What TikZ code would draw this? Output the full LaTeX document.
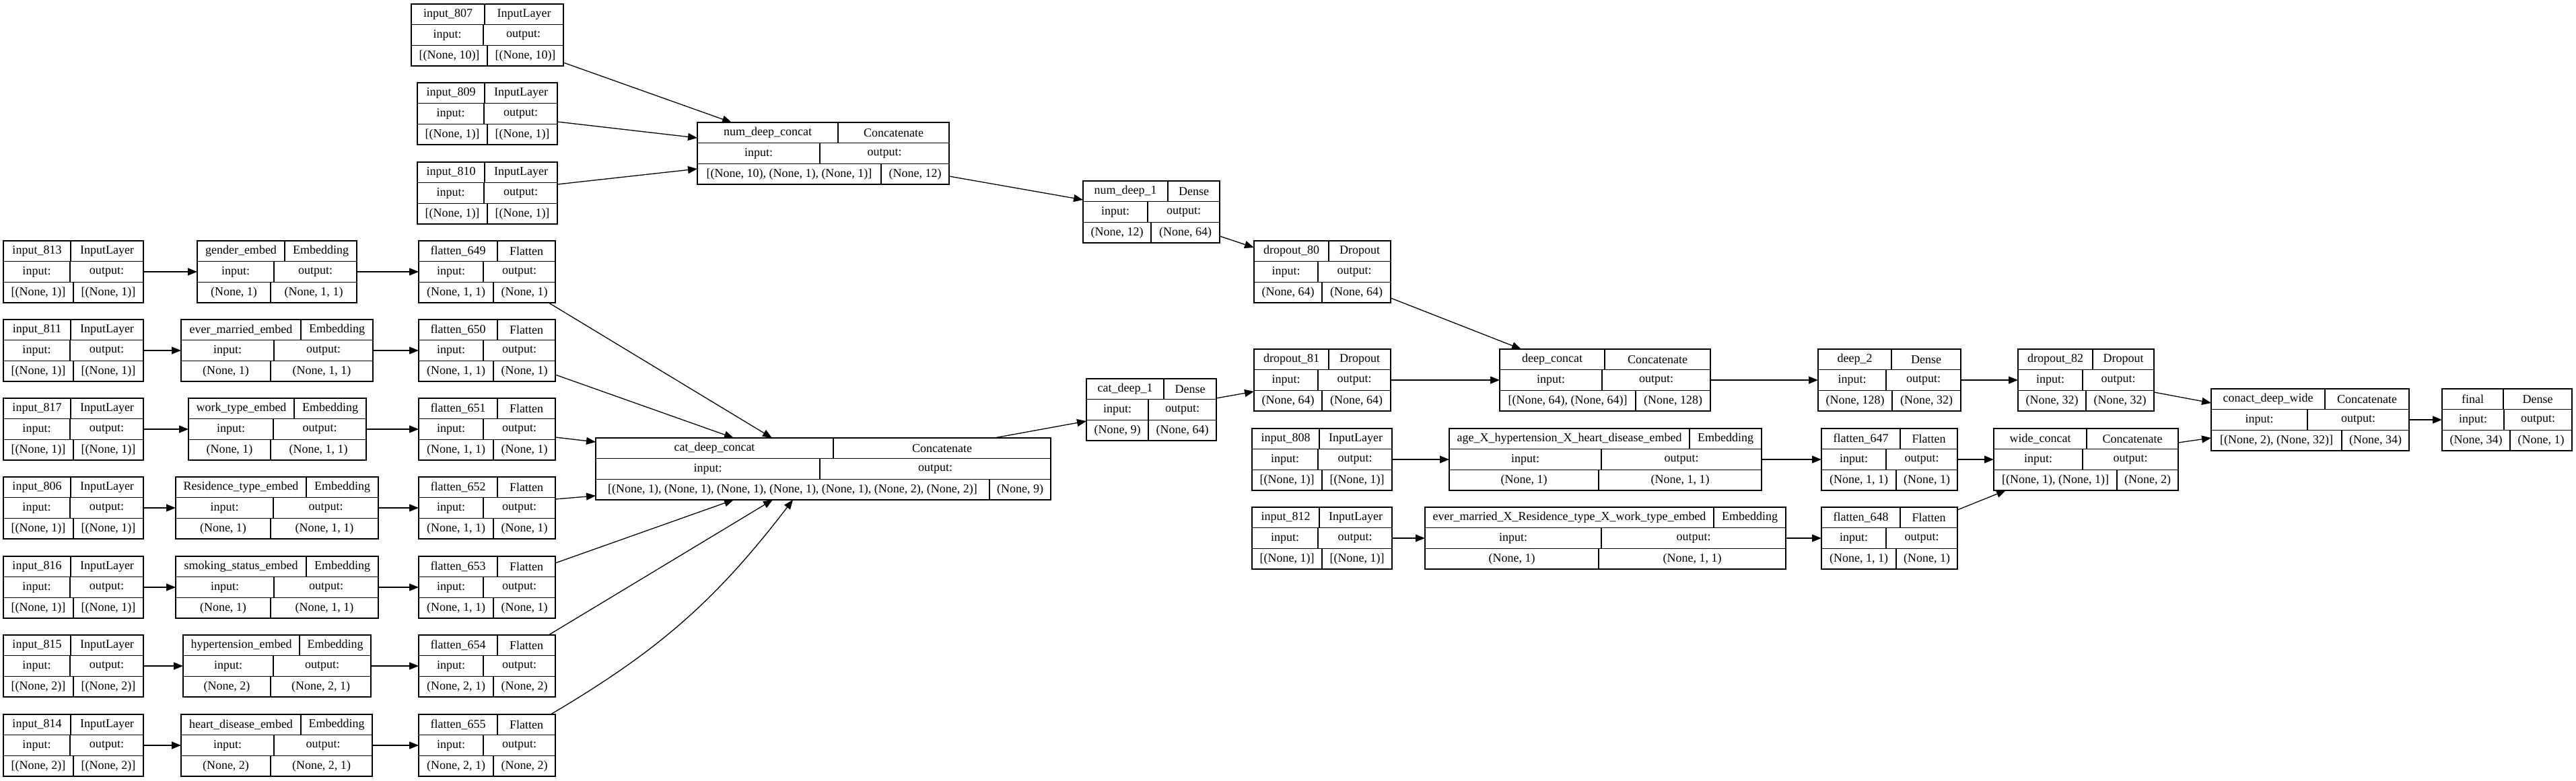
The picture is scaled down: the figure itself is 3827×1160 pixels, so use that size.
\documentclass[tikz,border=0pt]{standalone}
\usepackage{fontspec}
\setmainfont{Liberation Serif}
\usetikzlibrary{arrows.meta,calc}

\tikzset{
  layerbox/.style={draw, line width=1.5pt, minimum height=92pt, inner sep=0pt, outer sep=0pt},
  cellline/.style={line width=1.5pt},
  flow/.style={-{Triangle[length=14pt,width=11pt]}, line width=1.3pt},
  every node/.append style={font=\fontsize{18}{22}\selectfont}
}

% box: id, left, top, right, split row 1, split row 2, split row 3, name, class
\newcommand{\kerasnode}[9]{%
  \node[layerbox, minimum width={(#4-#2)*1pt}, anchor=north west] (#1) at (#2,#3) {};
  \draw[cellline] (#2,#3+30.67) -- (#4,#3+30.67) (#2,#3+61.33) -- (#4,#3+61.33);
  \draw[cellline] (#5,#3) -- (#5,#3+30.67) (#6,#3+30.67) -- (#6,#3+61.33) (#7,#3+61.33) -- (#7,#3+92);
  \node at ({(#2+#5)/2},#3+15.33) {#8};
  \node at ({(#5+#4)/2},#3+15.33) {#9};
  \node at ({(#2+#6)/2},#3+46) {input:};
  \node at ({(#6+#4)/2},#3+46) {output:};
  \coordinate (#1-s) at (#7,#3+76.67);
}
% shapes in the last row
\newcommand{\kerasshape}[3]{%
  \path (#1.west |- #1-s) -- node{#2} (#1-s) -- node{#3} (#1.east |- #1-s);
}

\begin{document}
\begin{tikzpicture}[x=1pt,y=1pt,yscale=-1,xscale=1]
\useasboundingbox (0,0) rectangle (3827,1160);

% numeric inputs
\kerasnode{in807}{611}{6}{837}{720}{718}{724}{input\_807}{InputLayer}
\kerasshape{in807}{[(None, 10)]}{[(None, 10)]}
\kerasnode{in809}{620}{123}{828}{720}{719}{724}{input\_809}{InputLayer}
\kerasshape{in809}{[(None, 1)]}{[(None, 1)]}
\kerasnode{in810}{620}{241}{828}{720}{719}{724}{input\_810}{InputLayer}
\kerasshape{in810}{[(None, 1)]}{[(None, 1)]}

\kerasnode{ndc}{1036}{182}{1410}{1245}{1218}{1309}{num\_deep\_concat}{Concatenate}
\kerasshape{ndc}{[(None, 10), (None, 1), (None, 1)]}{(None, 12)}
\kerasnode{nd1}{1609}{269}{1812}{1735}{1705}{1710}{num\_deep\_1}{Dense}
\kerasshape{nd1}{(None, 12)}{(None, 64)}
\kerasnode{do80}{1863}{358}{2066}{1974}{1958}{1964}{dropout\_80}{Dropout}
\kerasshape{do80}{(None, 64)}{(None, 64)}

% categorical inputs
\kerasnode{in813}{5}{358}{213}{105}{104}{109}{input\_813}{InputLayer}
\kerasshape{in813}{[(None, 1)]}{[(None, 1)]}
\kerasnode{in811}{5}{475}{213}{105}{104}{109}{input\_811}{InputLayer}
\kerasshape{in811}{[(None, 1)]}{[(None, 1)]}
\kerasnode{in817}{5}{592}{213}{105}{104}{109}{input\_817}{InputLayer}
\kerasshape{in817}{[(None, 1)]}{[(None, 1)]}
\kerasnode{in806}{5}{709}{213}{105}{104}{109}{input\_806}{InputLayer}
\kerasshape{in806}{[(None, 1)]}{[(None, 1)]}
\kerasnode{in816}{5}{827}{213}{105}{104}{109}{input\_816}{InputLayer}
\kerasshape{in816}{[(None, 1)]}{[(None, 1)]}
\kerasnode{in815}{5}{944}{213}{105}{104}{109}{input\_815}{InputLayer}
\kerasshape{in815}{[(None, 2)]}{[(None, 2)]}
\kerasnode{in814}{5}{1062}{213}{105}{104}{109}{input\_814}{InputLayer}
\kerasshape{in814}{[(None, 2)]}{[(None, 2)]}

% embeddings
\kerasnode{gemb}{293}{358}{530}{423}{407}{402}{gender\_embed}{Embedding}
\kerasshape{gemb}{(None, 1)}{(None, 1, 1)}
\kerasnode{memb}{269}{475}{554}{447}{407}{402}{ever\_married\_embed}{Embedding}
\kerasshape{memb}{(None, 1)}{(None, 1, 1)}
\kerasnode{wemb}{280}{592}{544}{437}{406}{402}{work\_type\_embed}{Embedding}
\kerasshape{wemb}{(None, 1)}{(None, 1, 1)}
\kerasnode{remb}{261}{709}{562}{455}{406}{402}{Residence\_type\_embed}{Embedding}
\kerasshape{remb}{(None, 1)}{(None, 1, 1)}
\kerasnode{semb}{261}{827}{562}{455}{407}{402}{smoking\_status\_embed}{Embedding}
\kerasshape{semb}{(None, 1)}{(None, 1, 1)}
\kerasnode{hemb}{272}{944}{551}{445}{406}{402}{hypertension\_embed}{Embedding}
\kerasshape{hemb}{(None, 2)}{(None, 2, 1)}
\kerasnode{hdemb}{269}{1062}{553}{447}{407}{402}{heart\_disease\_embed}{Embedding}
\kerasshape{hdemb}{(None, 2)}{(None, 2, 1)}

% flattens
\kerasnode{f649}{622}{358}{825}{739}{718}{733}{flatten\_649}{Flatten}
\kerasshape{f649}{(None, 1, 1)}{(None, 1)}
\kerasnode{f650}{622}{475}{825}{739}{718}{733}{flatten\_650}{Flatten}
\kerasshape{f650}{(None, 1, 1)}{(None, 1)}
\kerasnode{f651}{622}{592}{825}{739}{718}{733}{flatten\_651}{Flatten}
\kerasshape{f651}{(None, 1, 1)}{(None, 1)}
\kerasnode{f652}{622}{709}{825}{739}{718}{733}{flatten\_652}{Flatten}
\kerasshape{f652}{(None, 1, 1)}{(None, 1)}
\kerasnode{f653}{622}{827}{825}{739}{718}{733}{flatten\_653}{Flatten}
\kerasshape{f653}{(None, 1, 1)}{(None, 1)}
\kerasnode{f654}{622}{944}{825}{739}{718}{733}{flatten\_654}{Flatten}
\kerasshape{f654}{(None, 2, 1)}{(None, 2)}
\kerasnode{f655}{622}{1062}{825}{739}{718}{733}{flatten\_655}{Flatten}
\kerasshape{f655}{(None, 2, 1)}{(None, 2)}

\kerasnode{cdc}{885}{651}{1561}{1238}{1218}{1470}{cat\_deep\_concat}{Concatenate}
\kerasshape{cdc}{[(None, 1), (None, 1), (None, 1), (None, 1), (None, 1), (None, 2), (None, 2)]}{(None, 9)}
\kerasnode{cd1}{1614}{563}{1807}{1729}{1706}{1706}{cat\_deep\_1}{Dense}
\kerasshape{cd1}{(None, 9)}{(None, 64)}
\kerasnode{do81}{1863}{519}{2066}{1974}{1958}{1964}{dropout\_81}{Dropout}
\kerasshape{do81}{(None, 64)}{(None, 64)}

% deep part
\kerasnode{dc}{2228}{519}{2541}{2384}{2380}{2430}{deep\_concat}{Concatenate}
\kerasshape{dc}{[(None, 64), (None, 64)]}{(None, 128)}
\kerasnode{d2}{2701}{519}{2913}{2810}{2802}{2811}{deep\_2}{Dense}
\kerasshape{d2}{(None, 128)}{(None, 32)}
\kerasnode{do82}{2998}{519}{3200}{3109}{3094}{3099}{dropout\_82}{Dropout}
\kerasshape{do82}{(None, 32)}{(None, 32)}

% wide part
\kerasnode{in808}{1860}{637}{2068}{1960}{1958}{1964}{input\_808}{InputLayer}
\kerasshape{in808}{[(None, 1)]}{[(None, 1)]}
\kerasnode{agex}{2153}{637}{2617}{2510}{2379}{2375}{age\_X\_hypertension\_X\_heart\_disease\_embed}{Embedding}
\kerasshape{agex}{(None, 1)}{(None, 1, 1)}
\kerasnode{f647}{2706}{637}{2908}{2823}{2802}{2817}{flatten\_647}{Flatten}
\kerasshape{f647}{(None, 1, 1)}{(None, 1)}
\kerasnode{in812}{1860}{754}{2068}{1960}{1958}{1964}{input\_812}{InputLayer}
\kerasshape{in812}{[(None, 1)]}{[(None, 1)]}
\kerasnode{emx}{2117}{754}{2653}{2546}{2379}{2375}{ever\_married\_X\_Residence\_type\_X\_work\_type\_embed}{Embedding}
\kerasshape{emx}{(None, 1)}{(None, 1, 1)}
\kerasnode{f648}{2706}{754}{2908}{2823}{2802}{2817}{flatten\_648}{Flatten}
\kerasshape{f648}{(None, 1, 1)}{(None, 1)}
\kerasnode{wc}{2962}{637}{3236}{3100}{3094}{3145}{wide\_concat}{Concatenate}
\kerasshape{wc}{[(None, 1), (None, 1)]}{(None, 2)}

\kerasnode{cdw}{3285}{578}{3579}{3454}{3428}{3479}{conact\_deep\_wide}{Concatenate}
\kerasshape{cdw}{[(None, 2), (None, 32)]}{(None, 34)}
\kerasnode{fin}{3628}{578}{3821}{3719}{3720}{3729}{final}{Dense}
\kerasshape{fin}{(None, 34)}{(None, 1)}

% arrows, numeric branch
\draw[flow] ($(in807.south east)+(0,-5)$) -- ($(ndc.north west)+(51,0)$);
\draw[flow] ($(in809.east)+(0,12)$) -- ($(ndc.north west)+(0,23)$);
\draw[flow] ($(in810.east)+(0,-13)$) -- ($(ndc.north west)+(0,69)$);
\draw[flow] ($(ndc.south east)+(0,-12)$) -- ($(nd1.north west)+(0,28)$);
\draw[flow] ($(nd1.south east)+(0,-10)$) -- ($(do80.north west)+(0,10)$);
\draw[flow] ($(do80.south east)+(0,-7)$) -- ($(dc.north west)+(32,0)$);

% arrows, categorical branch
\foreach \a/\b/\c in {in813/gemb/f649,in811/memb/f650,in817/wemb/f651,in806/remb/f652,in816/semb/f653,in815/hemb/f654,in814/hdemb/f655}{
  \draw[flow] (\a.east) -- (\b.west);
  \draw[flow] (\b.east) -- (\c.west);
}
\draw[flow] ($(f649.south east)+(-10,0)$) -- ($(cdc.north west)+(262,0)$);
\draw[flow] ($(f650.south east)+(0,-10)$) -- ($(cdc.north west)+(205,0)$);
\draw[flow] ($(f651.south east)+(0,-34)$) -- ($(cdc.north west)+(0,6)$);
\draw[flow] ($(f652.north east)+(0,33)$) -- ($(cdc.south west)+(0,-6)$);
\draw[flow] ($(f653.north east)+(0,10)$) -- ($(cdc.south west)+(205,0)$);
\draw[flow] ($(f654.north east)+(-10,0)$) -- ($(cdc.south west)+(263,0)$);
\draw[flow] ($(f655.north east)+(-7,0)$) to[bend left=11] ($(cdc.south west)+(293,0)$);
\draw[flow] ($(cdc.north east)+(-84,0)$) -- ($(cd1.south west)+(0,-29)$);
\draw[flow] ($(cd1.north east)+(0,29)$) -- ($(do81.north west)+(0,63)$);

% arrows, deep and wide
\draw[flow] (do81.east) -- (dc.west);
\draw[flow] (dc.east) -- (d2.west);
\draw[flow] (d2.east) -- (do82.west);
\draw[flow] (in808.east) -- (agex.west);
\draw[flow] (agex.east) -- (f647.west);
\draw[flow] (in812.east) -- (emx.west);
\draw[flow] (emx.east) -- (f648.west);
\draw[flow] (f647.east) -- (wc.west);
\draw[flow] ($(f648.north east)+(0,4)$) -- ($(wc.south west)+(18,0)$);
\draw[flow] ($(do82.south east)+(0,-28)$) -- ($(cdw.north west)+(0,21)$);
\draw[flow] ($(wc.north east)+(0,21)$) -- ($(cdw.south west)+(0,-19)$);
\draw[flow] (cdw.east) -- (fin.west);

\end{tikzpicture}
\end{document}
